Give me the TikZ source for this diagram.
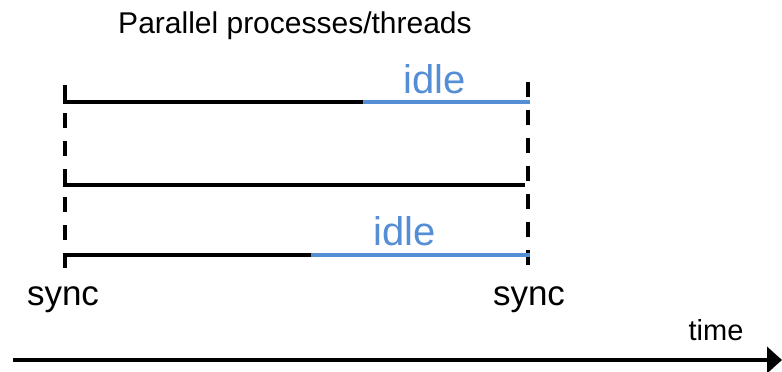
\documentclass[tikz,border=0pt]{standalone}
\usepackage{fontspec}
\setmainfont{Liberation Sans}
\usetikzlibrary{arrows.meta}
\definecolor{idleblue}{RGB}{85,142,213}
\tikzset{
  sep/.style={line width=3.5pt, dash pattern=on 15pt off 13pt},
  work/.style={line width=4.5pt, black},
  idleline/.style={line width=4.5pt, idleblue},
  lbl/.style={inner sep=0pt, anchor=base},
}
\begin{document}
\begin{tikzpicture}[x=1pt,y=-1pt]
\useasboundingbox (0,0) rectangle (782,372);
% title
\node[lbl, font=\fontsize{30}{35}\selectfont] (title) at (295,34) {Parallel processes/threads};
% sync lines
\coordinate (ls) at (65,85);
\coordinate (le) at (65,268);
\coordinate (rs) at (528,82);
\coordinate (re) at (528,267);
\draw[sep] (ls) -- (le);
\draw[sep] (rs) -- (re);
% process 1
\coordinate (a0) at (63,102);
\coordinate (a1) at (363,102);
\coordinate (a2) at (530,102);
\draw[work] (a0) -- (a1);
\draw[idleline] (a1) -- (a2);
% process 2
\coordinate (b0) at (63,185);
\coordinate (b1) at (525,185);
\draw[work] (b0) -- (b1);
% process 3
\coordinate (c0) at (63,255);
\coordinate (c1) at (311,255);
\coordinate (c2) at (530,255);
\draw[work] (c0) -- (c1);
\draw[idleline] (c1) -- (c2);
% idle labels
\node[lbl, text=idleblue, font=\fontsize{40}{46}\selectfont] (idle1) at (435,93) {idle};
\node[lbl, text=idleblue, font=\fontsize{40}{46}\selectfont] (idle2) at (405,245) {idle};
% sync labels
\node[lbl, font=\fontsize{35}{40}\selectfont] (sync1) at (63,305) {sync};
\node[lbl, font=\fontsize{35}{40}\selectfont] (sync2) at (529,305) {sync};
% time axis
\coordinate (t0) at (13,360);
\coordinate (t1) at (782,360);
\draw[line width=4pt, -{Triangle[length=15pt,width=26pt]}] (t0) -- (t1);
\node[lbl, font=\fontsize{29}{34}\selectfont] (time) at (716,340) {time};
\end{tikzpicture}
\end{document}
